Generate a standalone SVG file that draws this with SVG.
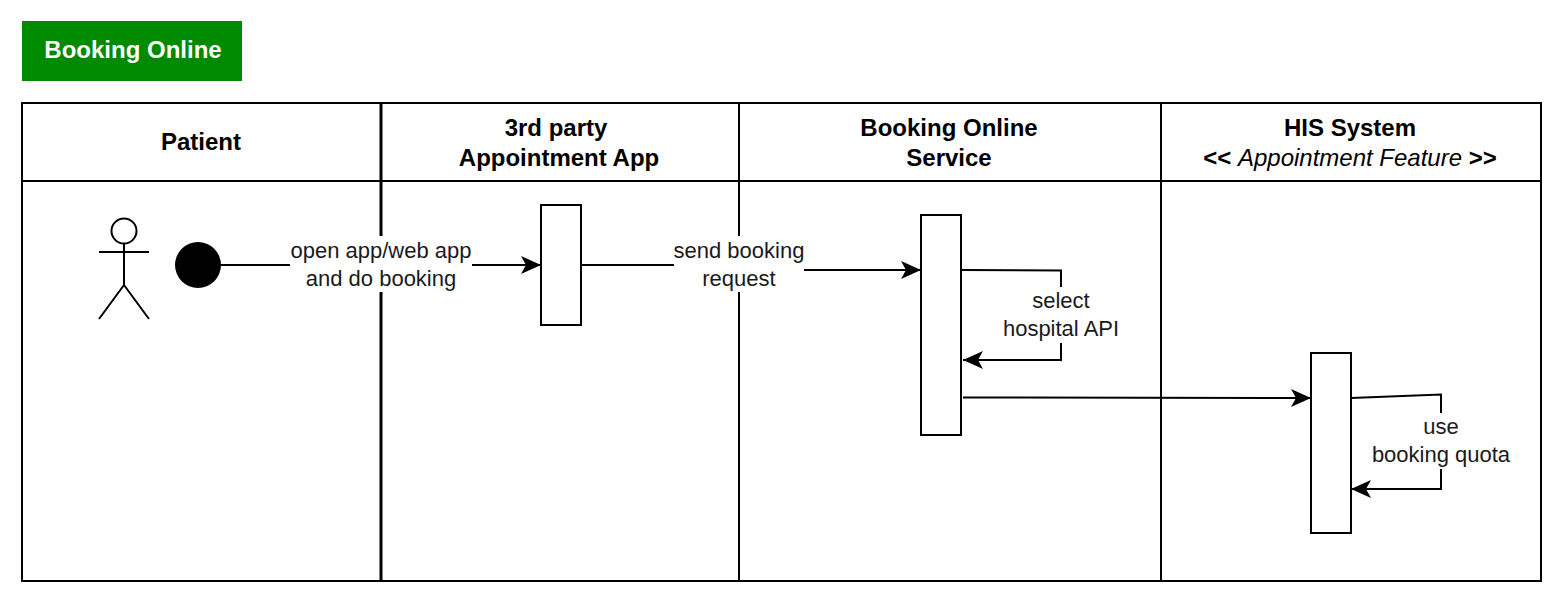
<svg xmlns="http://www.w3.org/2000/svg" width="1562" height="602" viewBox="0 0 1562 602">
<style>
text{font-family:"Liberation Sans",Arial,sans-serif;font-size:22px;fill:#1a1a1a;text-anchor:middle}
.h{font-weight:700;fill:#000;font-size:24px}
.s{fill:none;stroke:#000;stroke-width:2}
.b{fill:#fff;stroke:#000;stroke-width:2}
.l{fill:#fff;stroke:none}
</style>
<defs><marker id="a" markerUnits="userSpaceOnUse" markerWidth="22" markerHeight="20" refX="20" refY="10" orient="auto"><path d="M0 1L20 10L0 19L5 10Z" fill="#000"/></marker></defs>
<rect width="1562" height="602" fill="#fff"/>
<g id="title"><rect x="22" y="21" width="220" height="60" fill="#008a00"/><text x="133" y="58" class="h" style="fill:#fff">Booking Online</text></g>
<g id="swimlanes">
<rect x="22" y="103" width="1519" height="478" class="s"/>
<path d="M22 181H1541M739 103V581M1161 103V581" class="s"/>
<path d="M381 103V581" class="s" style="stroke-width:3"/>
<text x="201" y="150" class="h">Patient</text>
<text x="556" y="136" class="h">3rd party</text><text x="559" y="166" class="h">Appointment App</text>
<text x="949" y="136" class="h">Booking Online</text><text x="949" y="166" class="h">Service</text>
<text x="1350" y="136" class="h">HIS System</text>
<text x="1350" y="166" class="h">&lt;&lt; <tspan font-weight="400" font-style="italic">Appointment Feature</tspan> &gt;&gt;</text>
</g>
<g id="actor"><circle cx="124" cy="231" r="12.500" class="b"/><path d="M124 244V285M99 252H149M124 285L99 319M124 285L149 319" class="s"/></g>
<g id="start"><circle cx="198" cy="265" r="23" fill="#000"/></g>
<g id="act1"><rect x="541" y="205" width="40" height="120" class="b"/></g>
<g id="act2"><rect x="921" y="215" width="40" height="220" class="b"/></g>
<g id="act3"><rect x="1311" y="353" width="40" height="180" class="b"/></g>
<g id="connectors">
<path d="M221 265H541" class="s" marker-end="url(#a)"/>
<path d="M581 265H739V270H921" class="s" marker-end="url(#a)"/>
<path d="M961 270L1061 270.500V360H963" class="s" marker-end="url(#a)"/>
<path d="M963 397.500L1311 398" class="s" marker-end="url(#a)"/>
<path d="M1351 398L1441 394.500V489H1351" class="s" marker-end="url(#a)"/>
<rect x="290" y="236" width="182" height="56" class="l"/>
<text x="381" y="258">open app/web app</text><text x="381" y="286">and do booking</text>
<rect x="674" y="236" width="130" height="56" class="l"/>
<text x="739" y="258">send booking</text><text x="739" y="286">request</text>
<rect x="1003" y="287" width="116" height="56" class="l"/>
<text x="1061" y="308">select</text><text x="1061" y="336">hospital API</text>
<rect x="1372" y="413" width="138" height="56" class="l"/>
<text x="1441" y="434">use</text><text x="1441" y="462">booking quota</text>
</g>
</svg>
